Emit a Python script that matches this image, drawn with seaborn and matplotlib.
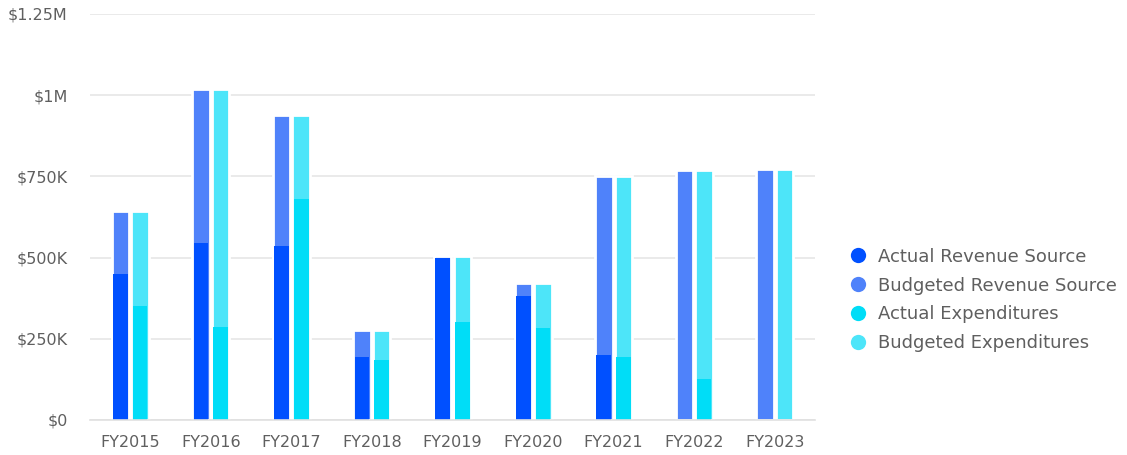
import pandas as pd
import matplotlib.pyplot as plt
import seaborn as sns
from matplotlib.lines import Line2D

# ---- data ----
years = ["FY2015", "FY2016", "FY2017", "FY2018", "FY2019",
         "FY2020", "FY2021", "FY2022", "FY2023"]
actual_revenue = [449, 545, 536, 195, 500, 381, 200, 0, 0]            # $K
budgeted_revenue = [643, 1018, 939, 277, 504, 421, 750, 769, 773]     # $K
actual_expend = [352, 287, 680, 185, 301, 283, 194, 126, 0]           # $K
budgeted_expend = [643, 1018, 939, 277, 504, 421, 750, 769, 773]      # $K

y_ticks = [0, 250, 500, 750, 1000, 1250]
y_tick_labels = ["$0", "$250K", "$500K", "$750K", "$1M", "$1.25M"]

series_names = ["Actual Revenue Source", "Budgeted Revenue Source",
                "Actual Expenditures", "Budgeted Expenditures"]
colors = {"Actual Revenue Source": "#0050FF",
          "Budgeted Revenue Source": "#4F82FA",
          "Actual Expenditures": "#00DDF7",
          "Budgeted Expenditures": "#4DE5F9"}

# long tables for seaborn
budget_df = pd.DataFrame({
    "year": years * 2,
    "kind": ["Revenue"] * len(years) + ["Expenditures"] * len(years),
    "value": budgeted_revenue + budgeted_expend,
})
actual_df = pd.DataFrame({
    "year": years * 2,
    "kind": ["Revenue"] * len(years) + ["Expenditures"] * len(years),
    "value": actual_revenue + actual_expend,
})

sns.set_theme(style="white")
plt.rcParams["font.family"] = ["DejaVu Sans"]

fig = plt.figure(figsize=(11.27, 4.55), dpi=100)
ax = fig.add_axes([90 / 1127, 35 / 455, 725 / 1127, 406 / 455])

# budget bars (behind, white outline to break the gridlines)
sns.barplot(data=budget_df, x="year", y="value", hue="kind",
            hue_order=["Revenue", "Expenditures"],
            palette=[colors["Budgeted Revenue Source"], colors["Budgeted Expenditures"]],
            width=0.486, gap=0.11, dodge=True, legend=False,
            edgecolor="white", linewidth=2.0, saturation=1, errorbar=None, ax=ax)

# actual bars on top, no outline
sns.barplot(data=actual_df, x="year", y="value", hue="kind",
            hue_order=["Revenue", "Expenditures"],
            palette=[colors["Actual Revenue Source"], colors["Actual Expenditures"]],
            width=0.486, gap=0.25, dodge=True, legend=False,
            linewidth=0, saturation=1, errorbar=None, ax=ax)

ax.set_xlim(-0.5, len(years) - 0.5)
ax.set_ylim(0, 1250)
ax.set_yticks(y_ticks)
ax.set_yticklabels(y_tick_labels)
ax.set_xlabel("")
ax.set_ylabel("")

ax.set_axisbelow(True)
ax.yaxis.grid(True, color="#e6e6e6", linewidth=1.2)
ax.xaxis.grid(False)
for side in ["top", "right", "left"]:
    ax.spines[side].set_visible(False)
ax.spines["bottom"].set_color("#e0e0e0")
ax.spines["bottom"].set_linewidth(1.2)
ax.spines["bottom"].set_zorder(5)

ax.tick_params(axis="y", length=0, pad=16, labelsize=11.5, labelcolor="#5f5f5f")
ax.tick_params(axis="x", length=0, pad=11, labelsize=11.5, labelcolor="#5f5f5f")

handles = [Line2D([0], [0], marker="o", linestyle="", markersize=11,
                  markerfacecolor=colors[n], markeredgewidth=0) for n in series_names]
leg = fig.legend(handles, series_names, loc="center left",
                 bbox_to_anchor=(841 / 1127, 155 / 455), frameon=False,
                 fontsize=13, labelcolor="#5f5f5f", handlelength=0.85,
                 handletextpad=0.7, labelspacing=0.6, borderpad=0)

plt.savefig("out.png", dpi=100)
